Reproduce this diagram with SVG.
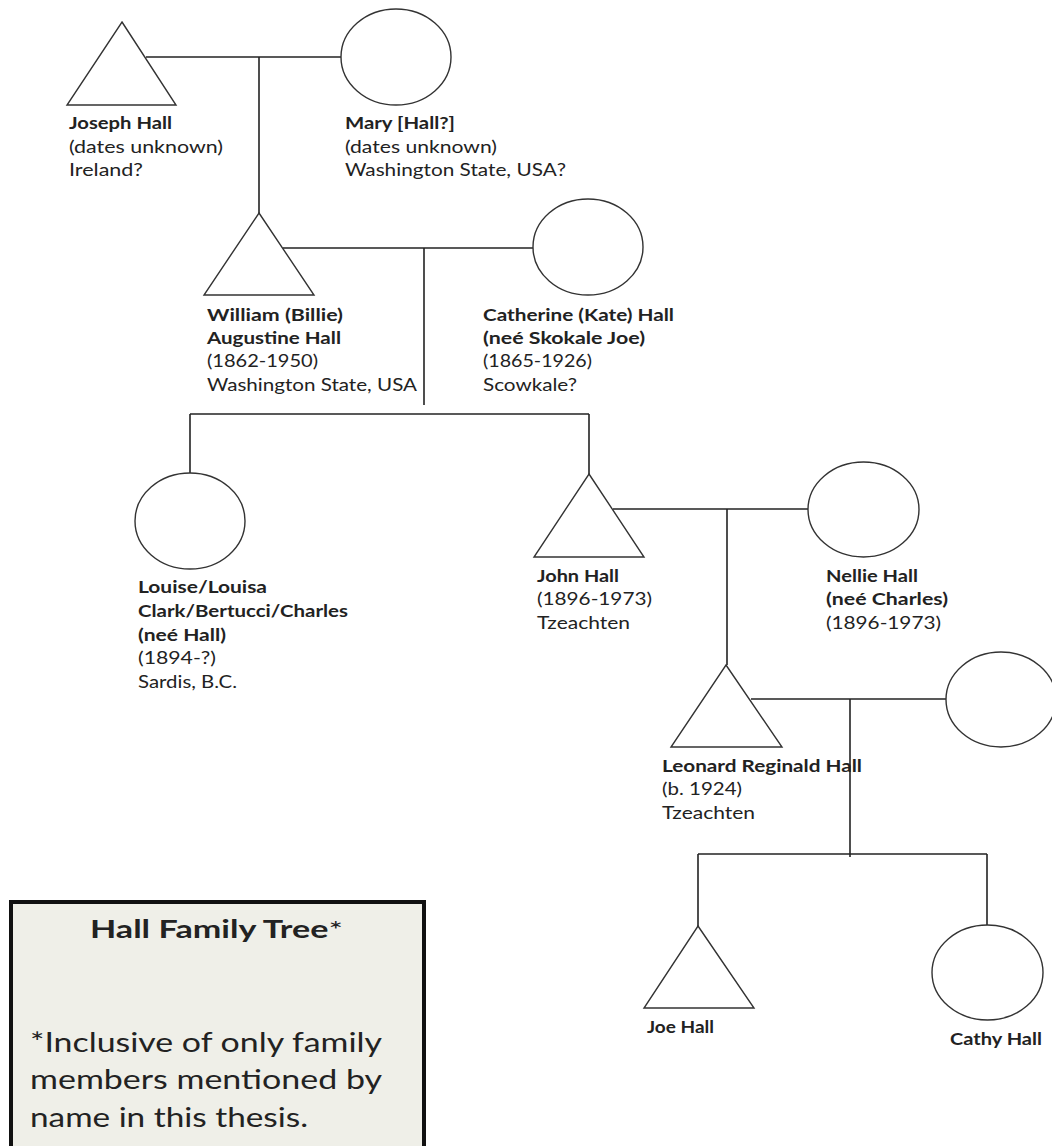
<svg xmlns="http://www.w3.org/2000/svg" width="1052" height="1146" viewBox="0 0 1052 1146">
<style>
.shape{fill:#fff;stroke:#333;stroke-width:1.4}
.conn line{stroke:#222;stroke-width:1.6}
text{font-family:Lato,"Liberation Sans",sans-serif;font-size:17px;fill:#222}
.b{font-weight:bold}
.lg{font-size:26px}
.lt{font-size:24px;font-weight:bold}
</style>
<rect width="1052" height="1146" fill="#fff"/>
<g class="conn">
<line x1="146" y1="57" x2="341" y2="57"/>
<line x1="259" y1="57" x2="259" y2="213"/>
<line x1="283" y1="248" x2="533" y2="248"/>
<line x1="424" y1="248" x2="424" y2="405"/>
<line x1="190" y1="414" x2="589" y2="414"/>
<line x1="190" y1="414" x2="190" y2="473"/>
<line x1="589" y1="414" x2="589" y2="474"/>
<line x1="613" y1="509" x2="808" y2="509"/>
<line x1="727" y1="509" x2="727" y2="665"/>
<line x1="751" y1="699" x2="946" y2="699"/>
<line x1="850" y1="699" x2="850" y2="857"/>
<line x1="698" y1="854" x2="987" y2="854"/>
<line x1="698" y1="854" x2="698" y2="926"/>
<line x1="987" y1="854" x2="987" y2="925"/>
</g>
<g id="joseph">
<polygon class="shape" points="122,22 176,105 67,105"/>
<text x="69" y="129" class="b" textLength="103" lengthAdjust="spacingAndGlyphs">Joseph Hall</text>
<text x="69" y="153" textLength="154" lengthAdjust="spacingAndGlyphs">(dates unknown)</text>
<text x="69" y="176" textLength="74" lengthAdjust="spacingAndGlyphs">Ireland?</text>
</g>
<g id="mary">
<ellipse class="shape" cx="396" cy="57" rx="55" ry="48"/>
<text x="345" y="129" class="b" textLength="110" lengthAdjust="spacingAndGlyphs">Mary [Hall?]</text>
<text x="345" y="153" textLength="152" lengthAdjust="spacingAndGlyphs">(dates unknown)</text>
<text x="345" y="176" textLength="221" lengthAdjust="spacingAndGlyphs">Washington State, USA?</text>
</g>
<g id="william">
<polygon class="shape" points="259,213 314,295 204,295"/>
<text x="207" y="321" class="b" textLength="136" lengthAdjust="spacingAndGlyphs">William (Billie)</text>
<text x="207" y="344" class="b" textLength="134" lengthAdjust="spacingAndGlyphs">Augustine Hall</text>
<text x="207" y="367" textLength="111" lengthAdjust="spacingAndGlyphs">(1862-1950)</text>
<text x="207" y="391" textLength="210" lengthAdjust="spacingAndGlyphs">Washington State, USA</text>
</g>
<g id="catherine">
<ellipse class="shape" cx="588" cy="247" rx="55" ry="48"/>
<text x="483" y="321" class="b" textLength="191" lengthAdjust="spacingAndGlyphs">Catherine (Kate) Hall</text>
<text x="483" y="344" class="b" textLength="162" lengthAdjust="spacingAndGlyphs">(neé Skokale Joe)</text>
<text x="483" y="367" textLength="109" lengthAdjust="spacingAndGlyphs">(1865-1926)</text>
<text x="483" y="391" textLength="94" lengthAdjust="spacingAndGlyphs">Scowkale?</text>
</g>
<g id="louise">
<ellipse class="shape" cx="190" cy="521" rx="55" ry="48"/>
<text x="138" y="593" class="b" textLength="129" lengthAdjust="spacingAndGlyphs">Louise/Louisa</text>
<text x="138" y="617" class="b" textLength="210" lengthAdjust="spacingAndGlyphs">Clark/Bertucci/Charles</text>
<text x="138" y="641" class="b" textLength="88" lengthAdjust="spacingAndGlyphs">(neé Hall)</text>
<text x="138" y="664" textLength="78" lengthAdjust="spacingAndGlyphs">(1894-?)</text>
<text x="138" y="688" textLength="99" lengthAdjust="spacingAndGlyphs">Sardis, B.C.</text>
</g>
<g id="john">
<polygon class="shape" points="589,474 644,557 534,557"/>
<text x="537" y="582" class="b" textLength="82" lengthAdjust="spacingAndGlyphs">John Hall</text>
<text x="537" y="605" textLength="115" lengthAdjust="spacingAndGlyphs">(1896-1973)</text>
<text x="537" y="629" textLength="93" lengthAdjust="spacingAndGlyphs">Tzeachten</text>
</g>
<g id="nellie">
<ellipse class="shape" cx="863.5" cy="509.5" rx="55.5" ry="47.5"/>
<text x="826" y="582" class="b" textLength="92" lengthAdjust="spacingAndGlyphs">Nellie Hall</text>
<text x="826" y="605" class="b" textLength="122" lengthAdjust="spacingAndGlyphs">(neé Charles)</text>
<text x="826" y="629" textLength="115" lengthAdjust="spacingAndGlyphs">(1896-1973)</text>
</g>
<g id="leonard">
<polygon class="shape" points="726,665 782,747 671,747"/>
<text x="662" y="772" class="b" textLength="200" lengthAdjust="spacingAndGlyphs">Leonard Reginald Hall</text>
<text x="662" y="795" textLength="80" lengthAdjust="spacingAndGlyphs">(b. 1924)</text>
<text x="662" y="819" textLength="93" lengthAdjust="spacingAndGlyphs">Tzeachten</text>
</g>
<g id="leonard-spouse">
<ellipse class="shape" cx="1001" cy="699.5" rx="55" ry="47.5"/>
</g>
<g id="joe">
<polygon class="shape" points="698,926 754,1008 644,1008"/>
<text x="647" y="1033" class="b" textLength="67" lengthAdjust="spacingAndGlyphs">Joe Hall</text>
</g>
<g id="cathy">
<ellipse class="shape" cx="987.5" cy="972.5" rx="55.5" ry="47.5"/>
<text x="950" y="1045" class="b" textLength="92" lengthAdjust="spacingAndGlyphs">Cathy Hall</text>
</g>
<g id="legend">
<rect x="11" y="902" width="413" height="270" fill="#EFEFE8" stroke="#111" stroke-width="4"/>
<text x="90" y="938" class="lt" textLength="253" lengthAdjust="spacingAndGlyphs">Hall Family Tree<tspan font-weight="normal">*</tspan></text>
<text x="30" y="1052" class="lg" textLength="352" lengthAdjust="spacingAndGlyphs">*Inclusive of only family</text>
<text x="30" y="1089" class="lg" textLength="352" lengthAdjust="spacingAndGlyphs">members mentioned by</text>
<text x="30" y="1127" class="lg" textLength="278" lengthAdjust="spacingAndGlyphs">name in this thesis.</text>
</g>
</svg>
